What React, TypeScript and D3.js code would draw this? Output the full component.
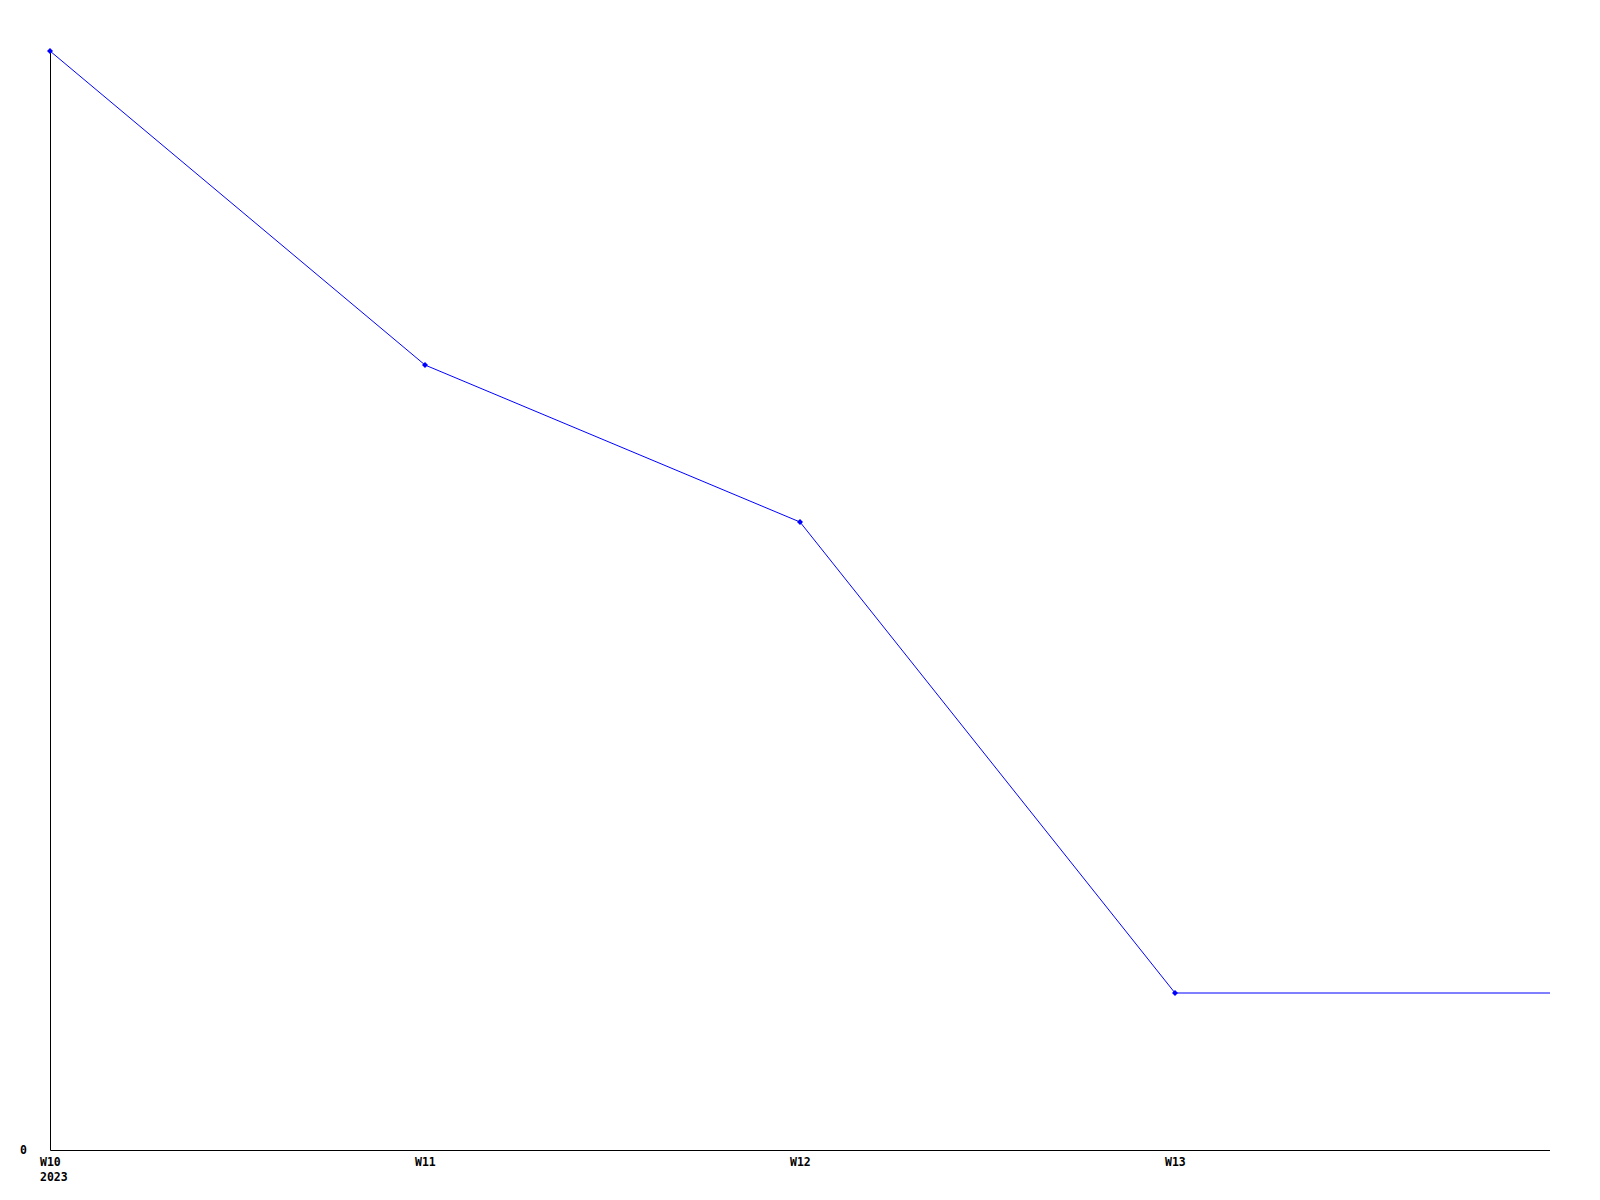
import React from "react";
import * as d3 from "d3";

const weeks = ["W10", "W11", "W12", "W13", "W14"];
const values = [7, 5, 4, 1, 1];
const tickLabels = ["W10", "W11", "W12", "W13"];
const yearLabel = "2023";
const yTicks = [0];

export default function App() {
  const W = 1600, H = 1200;
  const m = { left: 50, right: 50, top: 51, bottom: 50 };
  const x = d3.scalePoint().domain(weeks).range([m.left, W - m.right]);
  const y = d3.scaleLinear().domain([0, 7]).range([H - m.bottom, m.top]);
  const line = d3.line<number>().x((_, i) => x(weeks[i])!).y((d) => y(d));
  const font = "'DejaVu Sans Mono', monospace";
  const fs = 11.5;
  return (
    <svg width={W} height={H} style={{ position: "absolute", left: 0, top: 0, background: "#fff" }}>
      <path d={`M${m.left + 0.5},${m.top}V${H - m.bottom + 0.5}H${W - m.right}`} fill="none" stroke="#000" strokeWidth={1} />
      {yTicks.map((t) => (
        <text key={t} x={m.left - 30} y={y(t)} dy="0.35em" fontFamily={font} fontSize={fs} fontWeight="bold">{t}</text>
      ))}
      {tickLabels.map((t, i) => (
        <g key={t}>
          <text x={x(t)! - 10} y={H - m.bottom + 16} fontFamily={font} fontSize={fs} fontWeight="bold">{t}</text>
          {i === 0 && (
            <text x={x(t)! - 10} y={H - m.bottom + 31} fontFamily={font} fontSize={fs} fontWeight="bold">{yearLabel}</text>
          )}
        </g>
      ))}
      <path d={line(values) || ""} fill="none" stroke="#0000ff" strokeWidth={1} />
      {values.slice(0, values.length - 1).map((v, i) => {
        const cx = x(weeks[i])!, cy = y(v);
        return <path key={i} d={`M${cx},${cy - 3}L${cx + 3},${cy}L${cx},${cy + 3}L${cx - 3},${cy}Z`} fill="#0000ff" />;
      })}
    </svg>
  );
}
